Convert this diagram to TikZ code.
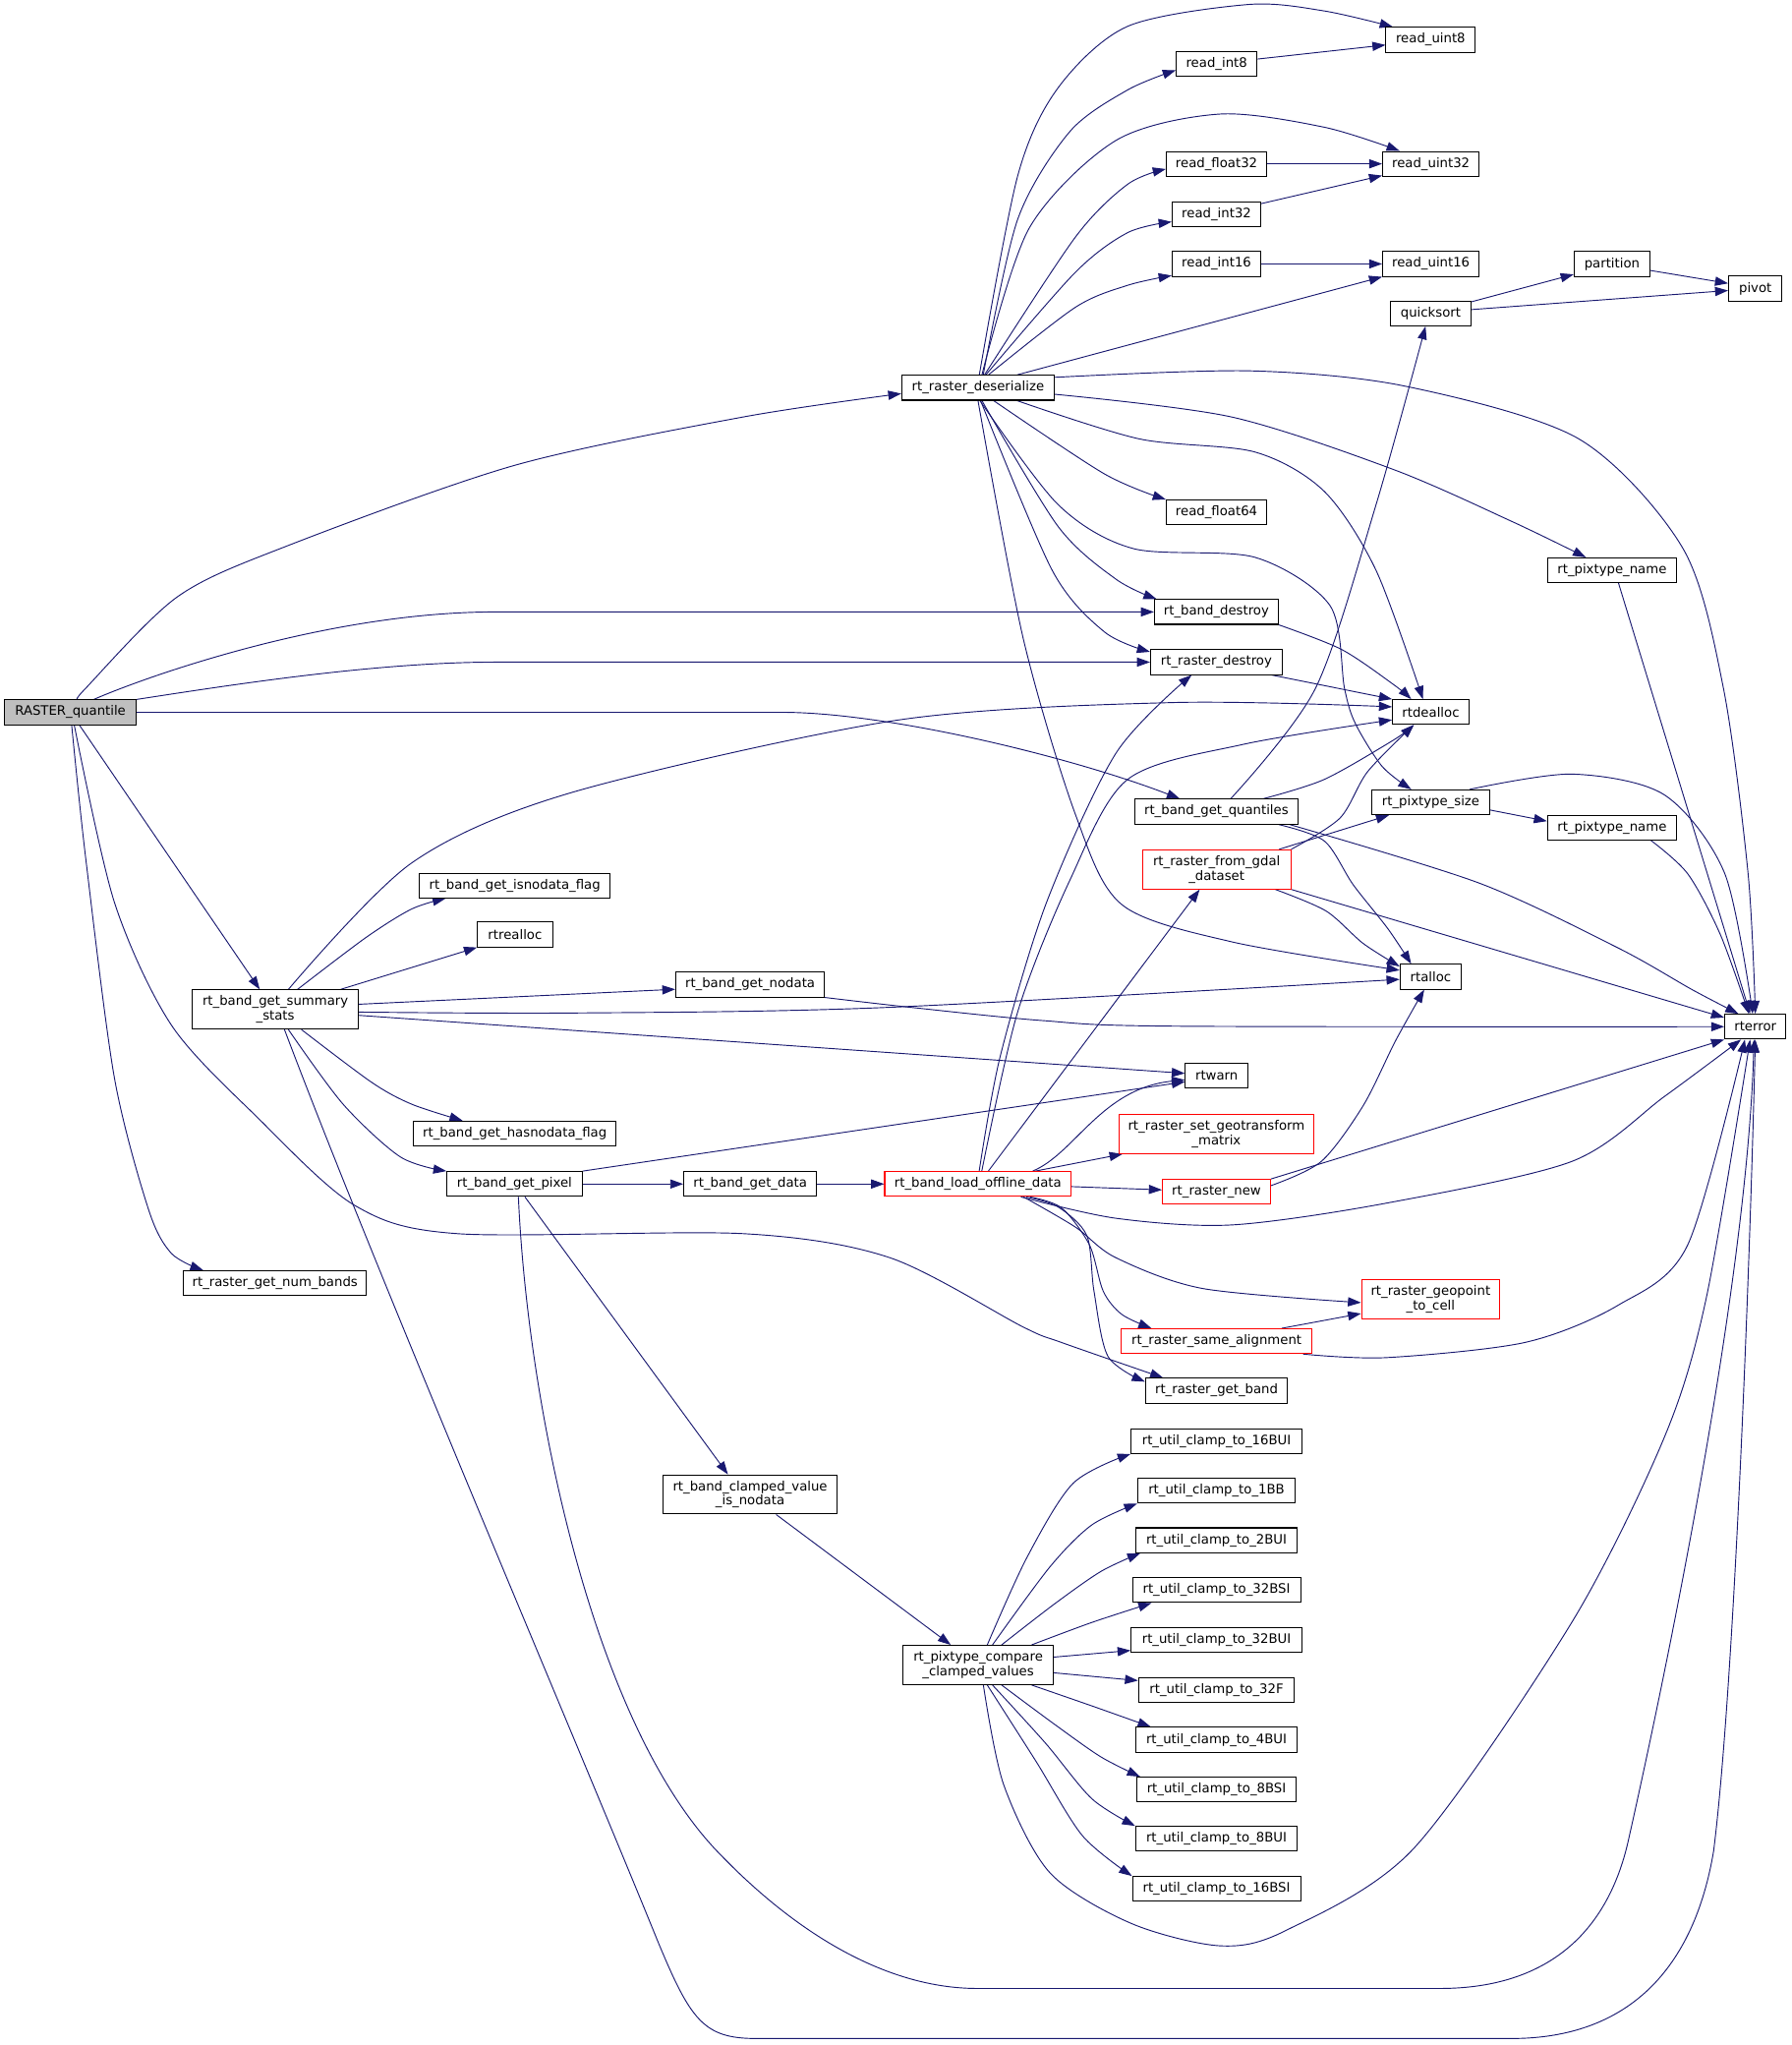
\documentclass[tikz,border=0pt]{standalone}
\usepackage{fontspec}
\setmainfont{DejaVu Sans}
\usetikzlibrary{arrows.meta}
\definecolor{edgeblue}{HTML}{191970}
\definecolor{nodegray}{HTML}{BFBFBF}
\pgfdeclarelayer{bg}
\pgfsetlayers{bg,main}
\tikzset{
  box/.style={draw=black, fill=white, line width=0.8pt, inner sep=0pt, minimum height=19pt, align=center, font=\fontsize{10}{11}\selectfont},
  tall/.style={minimum height=30pt},
  redbox/.style={box, draw=red},
  e/.style={draw=edgeblue, line width=0.7pt, -{Triangle[length=10pt,width=7pt]}},
}
\begin{document}
\begin{tikzpicture}[x=1pt,y=-1pt]
\useasboundingbox (0,0) rectangle (1375,1569);
% nodes
\node[box, fill=nodegray, minimum width=101pt] (RQ) at (54,546.5) {RASTER\_quantile};
\node[box, minimum width=117pt] (RD) at (750.5,297.5) {rt\_raster\_deserialize};
\node[box, minimum width=68.5pt] (RU8) at (1097.8,30.5) {read\_uint8};
\node[box, minimum width=62pt] (RI8) at (933.6,49.3) {read\_int8};
\node[box, minimum width=77pt] (RF32) at (933.5,125.7) {read\_float32};
\node[box, minimum width=74pt] (RU32) at (1098,125.7) {read\_uint32};
\node[box, minimum width=68pt] (RI32) at (933.5,164.2) {read\_int32};
\node[box, minimum width=68pt] (RI16) at (933.5,202.5) {read\_int16};
\node[box, minimum width=74pt] (RU16) at (1098,202.5) {read\_uint16};
\node[box, minimum width=58pt] (PART) at (1237,202.5) {partition};
\node[box, minimum width=41pt] (PIV) at (1347,221.4) {pivot};
\node[box, minimum width=62pt] (QS) at (1097.9,240.5) {quicksort};
\node[box, minimum width=77pt] (RF64) at (933.5,393.1) {read\_float64};
\node[box, minimum width=99pt] (PTNa) at (1237,437.5) {rt\_pixtype\_name};
\node[box, minimum width=95pt] (BD) at (933.4,469.5) {rt\_band\_destroy};
\node[box, minimum width=101pt] (RDS) at (933.4,508) {rt\_raster\_destroy};
\node[box, minimum width=58.6pt] (DEAL) at (1097.9,546.3) {rtdealloc};
\node[box, minimum width=125.6pt] (BQ) at (933.4,622.7) {rt\_band\_get\_quantiles};
\node[box, minimum width=90.6pt] (PTS) at (1097.9,615.5) {rt\_pixtype\_size};
\node[box, minimum width=99pt] (PTNb) at (1237,635) {rt\_pixtype\_name};
\node[redbox, tall, minimum width=113.7pt] (GDAL) at (933.6,667) {rt\_raster\_from\_gdal\\\_dataset};
\node[box, minimum width=47pt] (ALLOC) at (1097.9,749.4) {rtalloc};
\node[box, minimum width=47pt] (ERR) at (1347,787.7) {rterror};
\node[box, minimum width=48pt] (WARN) at (933.6,825.5) {rtwarn};
\node[redbox, tall, minimum width=149.6pt] (GEO) at (933.4,870) {rt\_raster\_set\_geotransform\\\_matrix};
\node[redbox, minimum width=143pt] (LOD) at (750.4,908.4) {rt\_band\_load\_offline\_data};
\node[redbox, minimum width=83pt] (NEW) at (933.5,914.4) {rt\_raster\_new};
\node[redbox, tall, minimum width=106pt] (GTC) at (1097.8,996.8) {rt\_raster\_geopoint\\\_to\_cell};
\node[box, minimum width=146pt] (ISND) at (395,679.4) {rt\_band\_get\_isnodata\_flag};
\node[box, minimum width=57.6pt] (REAL) at (395.2,717) {rtrealloc};
\node[box, tall, minimum width=127pt] (SS) at (211.3,774.5) {rt\_band\_get\_summary\\\_stats};
\node[box, minimum width=114pt] (GND) at (575.6,755.4) {rt\_band\_get\_nodata};
\node[box, minimum width=155pt] (HND) at (395,869.7) {rt\_band\_get\_hasnodata\_flag};
\node[box, minimum width=103.7pt] (PIX) at (394.8,908.4) {rt\_band\_get\_pixel};
\node[box, minimum width=102pt] (GDATA) at (575.7,908.4) {rt\_band\_get\_data};
\node[box, minimum width=140pt] (NB) at (211,984.5) {rt\_raster\_get\_num\_bands};
\node[redbox, minimum width=146pt] (SA) at (933.6,1029) {rt\_raster\_same\_alignment};
\node[box, minimum width=109pt] (GB) at (933.5,1067) {rt\_raster\_get\_band};
\node[box, minimum width=131pt] (CA) at (933.5,1105.6) {rt\_util\_clamp\_to\_16BUI};
\node[box, minimum width=121pt] (CB) at (933.5,1143.7) {rt\_util\_clamp\_to\_1BB};
\node[box, minimum width=124pt] (CC) at (933.5,1181.7) {rt\_util\_clamp\_to\_2BUI};
\node[box, minimum width=129pt] (CD) at (933.5,1220) {rt\_util\_clamp\_to\_32BSI};
\node[box, minimum width=131pt] (CE) at (933.5,1258.3) {rt\_util\_clamp\_to\_32BUI};
\node[box, minimum width=119.6pt] (CF) at (933.5,1296.4) {rt\_util\_clamp\_to\_32F};
\node[box, minimum width=124pt] (CG) at (933.5,1334.8) {rt\_util\_clamp\_to\_4BUI};
\node[box, minimum width=122.4pt] (CH) at (933.5,1373) {rt\_util\_clamp\_to\_8BSI};
\node[box, minimum width=124pt] (CI) at (933.5,1410.8) {rt\_util\_clamp\_to\_8BUI};
\node[box, minimum width=129pt] (CJ) at (933.5,1449.2) {rt\_util\_clamp\_to\_16BSI};
\node[box, tall, minimum width=115pt] (CMP) at (750.6,1277.4) {rt\_pixtype\_compare\\\_clamped\_values};
\node[box, tall, minimum width=133.5pt] (CVN) at (575.6,1146.6) {rt\_band\_clamped\_value\\\_is\_nodata};

\begin{pgfonlayer}{bg}
\fill[white] (0,0) rectangle (1375,1569);
% RASTER_quantile
\draw[e] plot[smooth] coordinates {([xshift=6pt]RQ.north) (65.8,528) (136,458) (219.4,419.2) (395,357) (570.4,319.9) ([yshift=-4.5pt]RD.west)};
\draw[e] ([xshift=18pt]RQ.north) .. controls (110,520) and (250,469.5) .. (380,469.5) -- (BD.west);
\draw[e] (RQ.north east) .. controls (180,525) and (290,508) .. (380,508) -- (RDS.west);
\draw[e] (RQ.east) -- (600,546.5) .. controls (680,546.5) and (820,580) .. ([xshift=-28pt]BQ.north);
\draw[e] ([xshift=7pt]RQ.south) -- ([xshift=-12pt]SS.north);
\draw[e] plot[smooth] coordinates {([xshift=1pt]RQ.south) (65.8,658.7) (87.8,827) (114,928) (131.6,961.7) ([xshift=-55pt]NB.north)};
\draw[e] plot[smooth] coordinates {([xshift=3pt]RQ.south) (87.8,692.3) (131.6,786.6) (197.5,857.3) (272,924.7) (351,946.5) (570.4,946.5) (683,965) (785.3,1018.2) (814.6,1030) ([xshift=14pt]GB.north west)};
% rt_raster_deserialize
\draw[e] plot[smooth] coordinates {([xshift=1pt]RD.north) (781,134.7) (812,67.3) (865.3,20.2) (958.5,3.4) (1016.2,8.4) ([xshift=-29pt]RU8.north)};
\draw[e] plot[smooth] coordinates {([xshift=4pt]RD.north) (780.9,168.4) (820.9,101) (865.3,69) ([yshift=-4.6pt]RI8.west)};
\draw[e] plot[smooth] coordinates {([xshift=3pt]RD.north) (789.8,175) (856.4,107.7) (936.3,87.5) (1016.2,97.6) ([xshift=-24pt]RU32.north)};
\draw[e] plot[smooth] coordinates {([xshift=5pt]RD.north) (825.3,181.8) (865.3,141.4) ([yshift=-4pt]RF32.west)};
\draw[e] plot[smooth] coordinates {([xshift=6pt]RD.north) (825.3,208.8) (865.3,178.5) ([yshift=-6pt]RI32.west)};
\draw[e] plot[smooth] coordinates {([xshift=8pt]RD.north) (825.3,235.7) (865.3,218.9) ([yshift=1pt]RI16.south west)};
\draw[e] ([xshift=30pt]RD.north) -- (RU16.south west);
\draw[e] plot[smooth] coordinates {([yshift=8pt]RD.east) (958.5,284.5) (1078.4,296.3) (1211.5,336.7) (1291.5,420.9) (1322.5,528) (1341.4,670) (ERR.north)};
\draw[e] plot[smooth] coordinates {([yshift=-5pt]RD.east) (945,319.9) (1069.5,360.3) (1160,400) ([xshift=-20pt]PTNa.north)};
\draw[e] plot[smooth] coordinates {([xshift=30pt]RD.south) (874.1,336.7) (963,346.8) (1016.2,377) (1056,437.7) ([xshift=-6pt]DEAL.north)};
\draw[e] plot[smooth] coordinates {([xshift=1.5pt]RD.south) (812,387.2) (869.7,420.9) (963,427.6) (1020.6,464.6) (1031.7,528) (1040,555) (1060.6,588) ([xshift=-15pt]PTS.north)};
\draw[e] plot[smooth] coordinates {([xshift=12pt]RD.south) (847.5,363.6) (RF64.north west)};
\draw[e] plot[smooth] coordinates {([xshift=3pt]RD.south) (812,404) (856.4,444.4) ([xshift=2pt]BD.north west)};
\draw[e] plot[smooth] coordinates {([xshift=2pt]RD.south) (807.5,437.7) (847.5,484.8) ([yshift=-2pt]RDS.north west)};
\draw[e] plot[smooth] coordinates {(RD.south) (785.3,490.3) (825.3,625) (860.8,694) (945.2,722.6) ([yshift=5pt]ALLOC.west)};
% reads
\draw[e] ([yshift=4pt]RI8.east) -- ([yshift=-4pt]RU8.west);
\draw[e] (RF32.east) -- (RU32.west);
\draw[e] ([yshift=8pt]RI32.east) -- ([yshift=-9pt]RU32.west);
\draw[e] (RI16.east) -- (RU16.west);
\draw[e] ([yshift=9pt]QS.east) -- ([yshift=-8pt]PART.west);
\draw[e] ([yshift=3pt]QS.east) -- ([yshift=-1.5pt]PIV.west);
\draw[e] ([yshift=-5pt]PART.east) -- ([yshift=4pt]PIV.west);
\draw[e] ([xshift=5pt]PTNa.south) -- ([xshift=-4pt]ERR.north);
% destroys
\draw[e] plot[smooth] coordinates {(BD.south east) (1029.5,498.3) (1069.5,525.3) ([xshift=-15pt]DEAL.north)};
\draw[e] ([xshift=-8.5pt]RDS.south east) -- (DEAL.north west);
% quantiles
\draw[e] plot[smooth] coordinates {([xshift=11pt]BQ.north) (1009.5,528) (1056,387) ([xshift=-4pt]QS.south)};
\draw[e] plot[smooth] coordinates {([xshift=36pt]BQ.north) (1016.2,598) (1069.5,567.7) ([xshift=-13pt]DEAL.south)};
\draw[e] plot[smooth] coordinates {([xshift=-15.5pt]BQ.south east) (1016.2,645.2) (1038.4,678.8) (1065,712.5) ([xshift=-15pt]ALLOC.north)};
\draw[e] plot[smooth] coordinates {([xshift=-7pt]BQ.south east) (1135,677.5) (1241.7,727.3) (1298.7,759.4) ([xshift=-13pt]ERR.north)};
% pixtype
\draw[e] plot[smooth] coordinates {([xshift=30pt]PTS.north) (1206.2,593.9) (1277.3,609.9) (1323.6,670.4) ([xshift=-2pt]ERR.north)};
\draw[e] ([yshift=-6pt]PTS.east) -- ([yshift=5pt]PTNb.west);
\draw[e] plot[smooth] coordinates {([xshift=30pt]PTNb.south) (1295.1,670.4) (1320,716.7) ([xshift=-5pt]ERR.north)};
% gdal
\draw[e] ([xshift=48pt]GDAL.north) -- ([xshift=-32pt]PTS.south);
\draw[e] plot[smooth] coordinates {(GDAL.north east) (1028.2,627.7) (1049.5,592) ([xshift=-13pt]DEAL.south)};
\draw[e] plot[smooth] coordinates {([xshift=45pt]GDAL.south) (1017.5,698.9) (1046,723.8) ([yshift=-2pt]ALLOC.north west)};
\draw[e] (GDAL.south east) -- ([yshift=7pt]ERR.west);
% summary stats
\draw[e] plot[smooth] coordinates {([xshift=10pt]SS.north) (316,662) (438.8,608) (688,552.6) (900.6,539) ([yshift=4pt]DEAL.west)};
\draw[e] plot[smooth] coordinates {([xshift=17pt]SS.north) (280.8,719.3) (315.9,697.4) ([xshift=-53pt]ISND.south)};
\draw[e] ([xshift=50pt]SS.north) -- (REAL.south west);
\draw[e] ([yshift=4pt]SS.east) -- ([yshift=-3.6pt]GND.west);
\draw[e] plot[smooth] coordinates {([yshift=-2pt]SS.east) (438.8,777.2) (678.8,773) ([yshift=-2pt]ALLOC.west)};
\draw[e] ([yshift=-4.5pt]SS.east) -- ([yshift=2pt]WARN.west);
\draw[e] plot[smooth] coordinates {([xshift=20pt]SS.south) (285.2,830.4) (316,847.2) ([xshift=-40pt]HND.north)};
\draw[e] plot[smooth] coordinates {([xshift=10pt]SS.south) (263.3,847.2) (307.2,887.6) (PIX.north west)};
\draw[e] ([xshift=7pt]SS.south) .. controls (290,980) and (440,1330) .. (505,1490) .. controls (530,1550) and (540,1564) .. (580,1564) -- (1160,1564) .. controls (1250,1564) and (1300,1510) .. (1315,1420) .. controls (1330,1300) and (1342,1000) .. (ERR.south);
\draw[e] plot[smooth] coordinates {(GND.south east) (700,773) (800,783) (900,787.3) (ERR.west)};
% pixel
\draw[e] (PIX.north east) -- ([yshift=-4.5pt]WARN.west);
\draw[e] (PIX.east) -- (GDATA.west);
\draw[e] ([xshift=8pt]PIX.south) -- ([xshift=-17pt]CVN.north);
\draw[e] ([xshift=3pt]PIX.south) .. controls (405,1080) and (455,1320) .. (550,1420) .. controls (610,1483) and (680,1525.6) .. (750,1525.6) -- (1105,1525.6) .. controls (1190,1525.6) and (1235,1480) .. (1250,1410) .. controls (1268,1330) and (1340,1000) .. ([xshift=-1pt]ERR.south);
\draw[e] (GDATA.east) -- (LOD.west);
% offline data
\draw[e] plot[smooth] coordinates {([xshift=1pt]LOD.north) (767.6,810.2) (803.1,692.3) (856.4,577.8) ([xshift=-19pt]RDS.south)};
\draw[e] plot[smooth] coordinates {([xshift=3pt]LOD.north) (780.9,776.5) (820.9,675.5) (865.3,598) (954,571.1) ([yshift=-6pt]DEAL.west)};
\draw[e] ([xshift=8pt]LOD.north) -- ([xshift=-13pt]GDAL.south);
\draw[e] ([xshift=42pt]LOD.north) .. controls (825,885) and (845,835) .. ([yshift=-3pt]WARN.west);
\draw[e] ([xshift=44pt]LOD.north) -- ([xshift=-72pt]GEO.south);
\draw[e] ([yshift=-2pt]LOD.east) -- ([yshift=1.5pt]NEW.west);
\draw[e] plot[smooth] coordinates {([xshift=33pt]LOD.south) (856.4,934.7) (945.2,939.8) (1063.8,923.1) (1206.1,891.1) (1277.3,841.2) ([xshift=-11pt]ERR.south)};
\draw[e] plot[smooth] coordinates {([xshift=35pt]LOD.south) (825.3,941.5) (856.4,965) (923,988.6) ([yshift=-2.6pt]GTC.west)};
\draw[e] plot[smooth] coordinates {([xshift=40pt]LOD.south) (814.6,926.7) (836,955.1) (846.6,990.7) (860.9,1008.5) ([xshift=-50pt]SA.north)};
\draw[e] plot[smooth] coordinates {([xshift=37pt]LOD.south) (812,926) (834,948) (839.5,990.7) (850.2,1040.6) ([yshift=-3pt]GB.north west)};
% raster new, same alignment
\draw[e] (NEW.north east) -- (ERR.south west);
\draw[e] plot[smooth] coordinates {([yshift=4.8pt]NEW.east) (1013.9,891.1) (1046,848.4) (1070.9,798.5) ([xshift=-5pt]ALLOC.south)};
\draw[e] ([xshift=50pt]SA.north) -- ([yshift=-11pt]GTC.west);
\draw[e] plot[smooth] coordinates {([xshift=-7pt]SA.south east) (1063.8,1041.6) (1170.5,1029.9) (1241.7,1001.4) (1295.1,955.1) ([xshift=-8pt]ERR.south)};
% clamped
\draw[e] ([xshift=20pt]CVN.south) -- ([xshift=-21pt]CMP.north);
\draw[e] plot[smooth] coordinates {([xshift=7pt]CMP.north) (788,1195) (823.5,1138) (CA.south west)};
\draw[e] plot[smooth] coordinates {([xshift=11pt]CMP.north) (805.8,1202) (837.8,1170) (CB.south west)};
\draw[e] plot[smooth] coordinates {([xshift=18pt]CMP.north) (809.3,1230.5) (844.9,1205.6) ([xshift=4pt]CC.south west)};
\draw[e] plot[smooth] coordinates {([xshift=41pt]CMP.north) (837.8,1244.8) ([xshift=15pt]CD.south west)};
\draw[e] ([yshift=6pt]CMP.east) -- ([yshift=-8pt]CE.west);
\draw[e] ([yshift=-6pt]CMP.east) -- ([yshift=7pt]CF.west);
\draw[e] plot[smooth] coordinates {([xshift=41pt]CMP.south) (837.8,1308.8) ([xshift=12pt]CG.north west)};
\draw[e] plot[smooth] coordinates {([xshift=18pt]CMP.south) (809.3,1323) (844.9,1348) ([xshift=3pt]CH.north west)};
\draw[e] plot[smooth] coordinates {([xshift=11pt]CMP.south) (802.2,1337.3) (837.8,1380) (CI.north west)};
\draw[e] plot[smooth] coordinates {([xshift=7pt]CMP.south) (795.1,1351.5) (830.7,1408.5) (CJ.north west)};
\draw[e] plot[smooth] coordinates {([xshift=4pt]CMP.south) (770.2,1369.3) (805.8,1437) (868.3,1475.8) (936.6,1492.9) (987,1481) (1085,1418) (1206.1,1244.8) (1277.3,1102.4) (1309.4,995.6) ([xshift=-4pt]ERR.south)};
\end{pgfonlayer}
\end{tikzpicture}
\end{document}
